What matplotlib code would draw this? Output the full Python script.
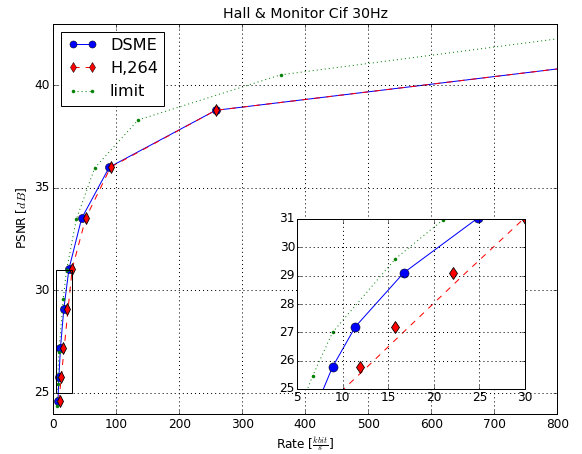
import numpy as np
import matplotlib
matplotlib.use("Agg")
import matplotlib.pyplot as plt
from matplotlib.patches import Rectangle

# rate in kbit/s, psnr in dB
dsme_rate = [7.4, 8.9, 11.4, 16.7, 24.9, 45.0, 88.9, 257.8, 1000.0]
dsme_psnr = [24.62, 25.78, 27.2, 29.1, 31.05, 33.51, 36.0, 38.77, 41.53]

h264_rate = [10.3, 11.9, 15.7, 22.1, 30.0, 51.4, 91.0, 257.8, 1000.0]
h264_psnr = [24.6, 25.78, 27.2, 29.1, 31.05, 33.51, 36.0, 38.77, 41.53]
# the dashed H.264 curve sits a little to the right of its markers at low rates
h264_line_rate = [8.8, 12.7, 17.3, 23.5, 30.0, 51.4, 91.0, 257.8, 1000.0]

limit_rate = [5.4, 6.7, 8.9, 15.8, 21.0, 36.5, 65.7, 134.6, 361.0, 1000.0]
limit_psnr = [24.37, 25.45, 27.0, 29.6, 30.97, 33.46, 35.96, 38.3, 40.5, 43.05]

main_xticks = np.arange(0, 801, 100)
main_yticks = [25, 30, 35, 40]
zoom_xticks = [5, 10, 15, 20, 25, 30]
zoom_yticks = [25, 26, 27, 28, 29, 30, 31]


def draw_curves(ax, ms):
    ax.plot(dsme_rate, dsme_psnr, 'b-', lw=1, marker='o', ms=ms, mfc='b', mec='k', label='DSME')
    ax.plot(h264_line_rate, h264_psnr, 'r--', lw=1)
    ax.plot(h264_rate, h264_psnr, 'rd', ms=ms, mec='k', mew=0.8)
    ax.plot(limit_rate, limit_psnr, ':', color='g', lw=1, marker='.', ms=6, mec='g', mfc='g')


plt.style.use('classic')
plt.rcParams['font.family'] = ['DejaVu Sans']
plt.rcParams['mathtext.fontset'] = 'cm'

fig = plt.figure(figsize=(8, 454 / 72.75), dpi=72.75, facecolor='white')
ax = fig.add_axes([53.3 / 582, 40.5 / 454, 504 / 582, 390 / 454])

draw_curves(ax, 8)
ax.set_xlim(0, 800)
ax.set_ylim(24, 43)
ax.set_xticks(main_xticks)
ax.set_yticks(main_yticks)
ax.grid(True, color='k', linestyle=':', lw=1)
ax.tick_params(labelsize=12)
ax.set_title('Hall & Monitor Cif 30Hz', fontsize=14)
ax.set_xlabel(r'Rate [$\frac{kbit}{s}$]', fontsize=12)
ax.set_ylabel(r'PSNR [$dB$]', fontsize=12)
ax.add_patch(Rectangle((5, 25), 25, 6, fill=False, edgecolor='k', lw=1, zorder=5))

# legend proxies so the H.264 entry shows markers on a dashed line
h_dsme, = ax.plot([], [], 'b-', marker='o', ms=7, mec='k')
h_h264, = ax.plot([], [], 'r--', marker='d', ms=7, mec='k')
h_lim, = ax.plot([], [], ':', color='g', marker='.', ms=6)
ax.legend([h_dsme, h_h264, h_lim], ['DSME', 'H,264', 'limit'], loc='upper left',
          fontsize=16, numpoints=2, handlelength=1.8, borderaxespad=0.5)

ins = fig.add_axes([297 / 582, 65 / 454, 228 / 582, 170 / 454])
draw_curves(ins, 9)
ins.set_xlim(5, 30)
ins.set_ylim(25, 31)
ins.set_xticks(zoom_xticks)
ins.set_yticks(zoom_yticks)
ins.grid(True, color='k', linestyle=':', lw=1)
ins.tick_params(labelsize=12, pad=2)

fig.savefig('out.png', dpi=72.75, facecolor='white')
